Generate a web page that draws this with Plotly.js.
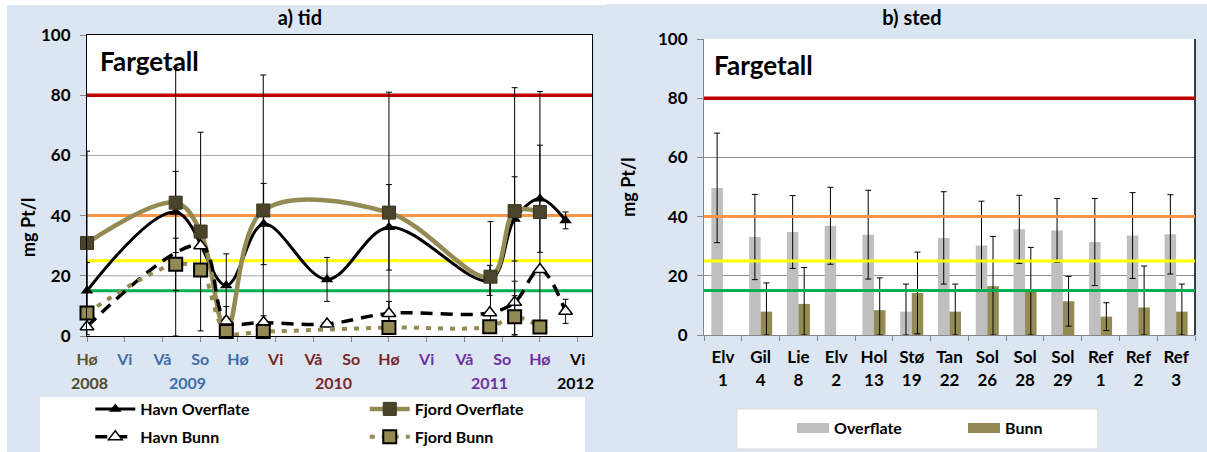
<!DOCTYPE html>
<html><head><meta charset="utf-8">
<script src="https://cdn.plot.ly/plotly-3.0.1.min.js"></script>
<style>
body{margin:0;background:#fff;width:1207px;height:452px;position:relative;overflow:hidden}
#a{position:absolute;left:7px;top:5px;width:599px;height:467px}
#b{position:absolute;left:606px;top:4px;width:601px;height:448px}
</style></head><body>
<div id="a"></div><div id="b"></div>
<script>
// ---------- a) tid ----------
const seasonLabels = ['Hø','Vi','Vå','So','Hø','Vi','Vå','So','Hø','Vi','Vå','So','Hø','Vi'];
const yearLabels = ['2008','2009','2010','2011','2012'];
const yearPos = [0.07, 2.67, 6.54, 10.66, 12.93];

const havnOverX = [0, 2.35, 3.69, 4.68, 6.36, 8.0, 10.67, 11.33, 12.0, 12.68];
const havnOverY = [15, 41.2, 16.8, 37.2, 18.8, 36.1, 18.5, 38.9, 45.6, 38.4];
const havnOverErr = [9.4, 13.5, 10.5, 13.5, 7.3, 14.2, 5, 14, 17.8, 2.8];

const fjordOverX = [0, 2.35, 3.01, 3.69, 4.67, 8.0, 10.69, 11.33, 12.0];
const fjordOverY = [30.9, 44.3, 34.7, 2, 41.7, 41, 19.7, 41.5, 41.2];
const fjordOverErr = [30.5, 45, 33, null, 45, 40, 18.3, 41, 40];

const havnBunnX = [0, 3.01, 3.69, 4.68, 6.36, 8.0, 10.67, 11.33, 12.0, 12.68];
const havnBunnY = [3.1, 30, 5, 4.5, 4.0, 7.5, 7.7, 11.2, 22.1, 8.2];
const havnBunnErr = [null, null, 4.8, 2.2, null, 4, null, 7, null, 4];

const fjordBunnX = [0, 2.35, 3.01, 3.69, 4.67, 8.0, 10.67, 11.33, 12.0];
const fjordBunnY = [7.6, 23.8, 21.9, 1.5, 1.5, 2.8, 3.1, 6.4, 3];
const fjordBunnErr = [null, 8.7, null, null, null, null, null, 7, null];

// ---------- b) sted ----------
const stations = ['Elv<br>1','Gil<br>4','Lie<br>8','Elv<br>2','Hol<br>13','Stø<br>19','Tan<br>22','Sol<br>26','Sol<br>28','Sol<br>29','Ref<br>1','Ref<br>2','Ref<br>3'];
const overflate = [49.7, 33.1, 34.8, 36.9, 33.9, 7.9, 32.8, 30.2, 35.7, 35.3, 31.4, 33.6, 34.0];
const overflateErr = [18.5, 14.4, 12.3, 13, 15, 9.3, 15.6, 15, 11.5, 10.8, 14.7, 14.5, 13.4];
const bunn = [null, 7.9, 10.5, null, 8.4, 14.2, 7.9, 16.5, 14.6, 11.4, 6.2, 9.3, 7.9];
const bunnErr = [null, 9.7, 12.3, null, 10.9, 13.8, 9.3, 16.8, 15, 8.4, 4.7, 14, 9.3];

const limits = [80, 40, 25, 15];
const limitColors = ['#c00000', '#f79646', '#ffff00', '#00b050'];
const gridVals = [20, 40, 60, 80];

// styles
const FONT = 'Lato, "Open Sans", sans-serif';
const seasonColors = ['#5a5230','#3d6fa8','#3d6fa8','#3d6fa8','#3d6fa8','#7b2626','#7b2626','#7b2626','#7b2626','#7030a0','#7030a0','#7030a0','#7030a0','#000000'];
const yearColors = ['#4f4a2c','#3d6fa8','#7b2626','#7030a0','#000000'];
const OLIVE = '#948a54';

function minus(vals, errs){ return errs.map((e,i)=> e==null ? null : Math.min(e, vals[i])); }
function errY(vals, errs){ return {type:'data', symmetric:false, array:errs, arrayminus:minus(vals,errs), color:'#000', thickness:1, width:3}; }

const tracesA = [
  {name:'Havn Overflate', legend:'legend', legendgroup:'g1', x:havnOverX, y:havnOverY, mode:'lines+markers', cliponaxis:false,
   line:{color:'#000', width:3, shape:'spline', smoothing:1},
   marker:{symbol:'triangle-up', size:11, color:'#000'}, error_y:errY(havnOverY, havnOverErr)},
  {name:'Fjord Overflate', legend:'legend2', legendgroup:'g2', x:fjordOverX, y:fjordOverY, mode:'lines+markers', cliponaxis:false,
   line:{color:OLIVE, width:4.5, shape:'spline', smoothing:1},
   marker:{symbol:'square', size:13, color:'#4a452a', line:{color:'#3b3720', width:1}}, error_y:errY(fjordOverY, fjordOverErr)},
  {name:'Havn Bunn', legend:'legend', legendgroup:'g3', x:havnBunnX, y:havnBunnY, mode:'lines+markers', cliponaxis:false,
   line:{color:'#000', width:3.5, shape:'spline', smoothing:1, dash:'12px,8px'},
   marker:{symbol:'triangle-up', size:12, color:'#fff', line:{color:'#000', width:1.5}}, error_y:errY(havnBunnY, havnBunnErr)},
  {name:'Fjord Bunn', legend:'legend2', legendgroup:'g4', x:fjordBunnX, y:fjordBunnY, mode:'lines+markers', cliponaxis:false,
   line:{color:OLIVE, width:4, shape:'spline', smoothing:1, dash:'5px,7px'},
   marker:{symbol:'square', size:13, color:OLIVE, line:{color:'#000', width:2}}, error_y:errY(fjordBunnY, fjordBunnErr)}
];

function limitShapes(layer){
  return limits.map((v,i)=>({type:'line', xref:'paper', x0:0, x1:1, yref:'y', y0:v, y1:v, layer:layer,
    line:{color:limitColors[i], width: i===0 ? 3.5 : 3}}));
}
function gridShapes(){
  return gridVals.map(v=>({type:'line', xref:'paper', x0:0, x1:1, yref:'y', y0:v, y1:v, layer:'below',
    line:{color:'#a6a6a6', width:1}}));
}

const tickTextA = seasonLabels.map((s,i)=>'<span style="color:'+seasonColors[i]+'">'+s+'</span>');
const legendBase = {orientation:'v', xref:'paper', yref:'paper', xanchor:'left', y:-0.186, yanchor:'top',
  bgcolor:'rgba(0,0,0,0)', font:{size:16, weight:700}, itemwidth:40, tracegroupgap:4};

const layoutA = {
  width:599, height:467, paper_bgcolor:'#dce6f2', plot_bgcolor:'#fff',
  margin:{l:80, r:14, t:30, b:136},
  font:{family:FONT, color:'#000'},
  title:{text:'a) tid', font:{size:20, weight:700}, xref:'container', x:0.489, yref:'container', y:0.9722, yanchor:'middle'},
  xaxis:{range:[0,13.38], tickvals:seasonLabels.map((s,i)=>i), ticktext:tickTextA, ticks:'outside', ticklen:5, tickcolor:'#888',
         showline:true, linecolor:'#000', linewidth:1, mirror:true, showgrid:false, zeroline:false,
         tickfont:{size:16, weight:700}, ticklabelstandoff:4, automargin:false},
  yaxis:{range:[0,100], tickvals:[0,20,40,60,80,100], showline:true, linecolor:'#000', mirror:true, ticks:'outside', ticklen:6, tickcolor:'#888',
         ticklabelstandoff:6, showgrid:false, zeroline:false, tickfont:{size:17, weight:700}, automargin:false},
  showlegend:true,
  legend:Object.assign({}, legendBase, {x:0.0065}),
  legend2:Object.assign({}, legendBase, {x:0.55}),
  shapes:[
    {type:'rect', xref:'paper', yref:'paper', x0:-0.093, x1:0.986, y0:-0.2027, y1:-0.46, fillcolor:'#fff', line:{width:0}, layer:'below'}
  ].concat(gridShapes(), limitShapes('below')),
  annotations:[
    {text:'Fargetall', xref:'paper', x:0.022, xanchor:'left', yref:'y', y:91.5, yanchor:'middle', showarrow:false, font:{size:26, weight:700}},
    {text:'mg Pt/l', textangle:-90, xref:'paper', x:-0.1168, xanchor:'center', yref:'y', y:36.2, yanchor:'middle', showarrow:false, font:{size:18, weight:700}}
  ].concat(yearLabels.map((t,i)=>({text:t, xref:'x', x:yearPos[i], yref:'paper', y:-0.153, yanchor:'middle', showarrow:false,
      font:{size:16, weight:700, color:yearColors[i]}})))
};

Plotly.newPlot('a', tracesA, layoutA, {displayModeBar:false, staticPlot:true});

// ---------- b) ----------
const tracesB = [
  {type:'bar', name:'Overflate', x:stations, y:overflate, marker:{color:'#bfbfbf'}, showlegend:false,
   error_y:errY(overflate, overflateErr)},
  {type:'bar', name:'Bunn', x:stations, y:bunn, marker:{color:OLIVE}, showlegend:false,
   error_y:errY(bunn, bunnErr)},
  {type:'scatter', mode:'lines', name:'Overflate', x:[null], y:[null], line:{color:'#bfbfbf', width:12}},
  {type:'scatter', mode:'lines', name:'Bunn', x:[null], y:[null], line:{color:OLIVE, width:12}}
];

const layoutB = {
  width:601, height:448, paper_bgcolor:'#dce6f2', plot_bgcolor:'#fff',
  margin:{l:98, r:12, t:35, b:117},
  font:{family:FONT, color:'#000'},
  barmode:'group', bargap:0.39, bargroupgap:0,
  title:{text:'b) sted', font:{size:20, weight:700}, xref:'container', x:0.509, yref:'container', y:0.969, yanchor:'middle'},
  xaxis:{type:'category', tickson:'boundaries', ticks:'outside', ticklen:5, tickcolor:'#868686', automargin:false,
         showline:true, linecolor:'#868686', showgrid:false, tickfont:{size:17, weight:700}, ticklabelstandoff:7},
  yaxis:{range:[0,100], tickvals:[0,20,40,60,80,100], showline:true, linecolor:'#868686', ticks:'outside', ticklen:6, tickcolor:'#868686',
         ticklabelstandoff:6, gridcolor:'#8c8c8c', zeroline:false, tickfont:{size:17, weight:700}, automargin:false,
         title:{text:'mg Pt/l', font:{size:18, weight:700}, standoff:17}},
  showlegend:true,
  legend:{orientation:'h', xref:'container', yref:'container', x:0.3095, xanchor:'left', y:0.0915, yanchor:'top', bgcolor:'rgba(0,0,0,0)',
          font:{size:16, weight:700}, entrywidth:124, itemwidth:32},
  shapes:[
    {type:'rect', xref:'paper', yref:'paper', x0:0.067, x1:0.802, y0:-0.25, y1:-0.385, fillcolor:'#fff', line:{width:1, color:'#d9d9d9'}, layer:'below'},
    {type:'line', xref:'paper', yref:'paper', x0:1, x1:1, y0:0, y1:1, line:{color:'#000', width:1.5}}
  ].concat(limitShapes('above')),
  annotations:[
    {text:'Fargetall', xref:'paper', x:0.016, xanchor:'left', yref:'y', y:91.2, yanchor:'middle', showarrow:false, font:{size:26, weight:700}}
  ]
};

Plotly.newPlot('b', tracesB, layoutB, {displayModeBar:false, staticPlot:true});
</script>
</body></html>
